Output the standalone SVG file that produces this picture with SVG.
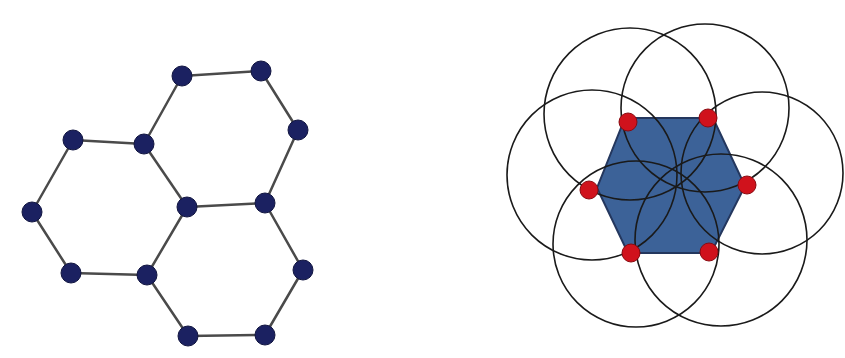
<svg xmlns="http://www.w3.org/2000/svg" width="845" height="358" viewBox="0 0 845 358">
<style>
.edge{stroke:#4a4a4a;stroke-width:2.5;fill:none;stroke-linecap:round}
.node{fill:#1b2161;stroke:#111540;stroke-width:1}
.circ{fill:none;stroke:#1a1a1a;stroke-width:1.6}
.red{fill:#d0121c;stroke:#8a0a10;stroke-width:1}
</style>
<rect width="845" height="358" fill="#ffffff"/>
<g id="connectors">
<line class="edge" x1="182" y1="76" x2="261" y2="71"/>
<line class="edge" x1="261" y1="71" x2="298" y2="130"/>
<line class="edge" x1="298" y1="130" x2="265" y2="203"/>
<line class="edge" x1="265" y1="203" x2="187" y2="207"/>
<line class="edge" x1="187" y1="207" x2="144" y2="144"/>
<line class="edge" x1="144" y1="144" x2="182" y2="76"/>
<line class="edge" x1="73" y1="140" x2="144" y2="144"/>
<line class="edge" x1="73" y1="140" x2="32" y2="212"/>
<line class="edge" x1="32" y1="212" x2="71" y2="273"/>
<line class="edge" x1="71" y1="273" x2="147" y2="275"/>
<line class="edge" x1="147" y1="275" x2="187" y2="207"/>
<line class="edge" x1="147" y1="275" x2="188" y2="336"/>
<line class="edge" x1="188" y1="336" x2="265" y2="335"/>
<line class="edge" x1="265" y1="335" x2="303" y2="270"/>
<line class="edge" x1="303" y1="270" x2="265" y2="203"/>
</g>
<g id="n1"><circle class="node" cx="182" cy="76" r="10"/></g>
<g id="n2"><circle class="node" cx="261" cy="71" r="10"/></g>
<g id="n3"><circle class="node" cx="73" cy="140" r="10"/></g>
<g id="n4"><circle class="node" cx="144" cy="144" r="10"/></g>
<g id="n5"><circle class="node" cx="298" cy="130" r="10"/></g>
<g id="n6"><circle class="node" cx="32" cy="212" r="10"/></g>
<g id="n7"><circle class="node" cx="187" cy="207" r="10"/></g>
<g id="n8"><circle class="node" cx="265" cy="203" r="10"/></g>
<g id="n9"><circle class="node" cx="71" cy="273" r="10"/></g>
<g id="n10"><circle class="node" cx="147" cy="275" r="10"/></g>
<g id="n11"><circle class="node" cx="303" cy="270" r="10"/></g>
<g id="n12"><circle class="node" cx="188" cy="336" r="10"/></g>
<g id="n13"><circle class="node" cx="265" cy="335" r="10"/></g>
<g id="coverage">
<polygon points="625,118 713,118 745,186 711,253 628,253 597,188" fill="#3c6298" stroke="#24375e" stroke-width="2"/>
<circle class="circ" cx="630" cy="114" r="86"/>
<circle class="circ" cx="705" cy="108" r="84"/>
<circle class="circ" cx="592" cy="175" r="85"/>
<circle class="circ" cx="762" cy="173" r="81"/>
<circle class="circ" cx="636" cy="244" r="83"/>
<circle class="circ" cx="721" cy="240" r="86"/>
<circle class="red" cx="628" cy="122" r="9"/>
<circle class="red" cx="708" cy="118" r="9"/>
<circle class="red" cx="589" cy="190" r="9"/>
<circle class="red" cx="747" cy="185" r="9"/>
<circle class="red" cx="631" cy="253" r="9"/>
<circle class="red" cx="709" cy="252" r="9"/>
</g>
</svg>
